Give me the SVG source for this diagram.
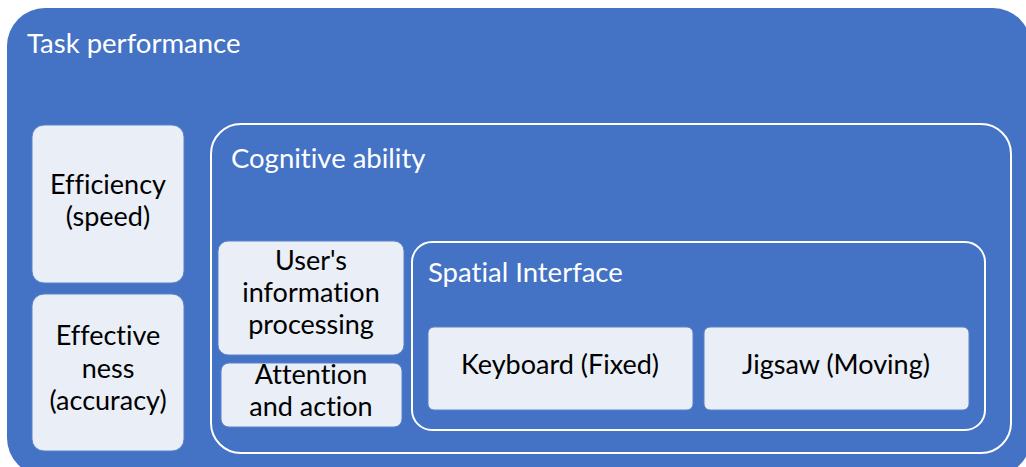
<svg xmlns="http://www.w3.org/2000/svg" width="1026" height="467" viewBox="0 0 1026 467">
<style>
.outer{fill:#4472C4}
.frame{fill:none;stroke:#FFFFFF;stroke-width:2}
.box{fill:#E9EEF7;stroke:#5A82C9;stroke-width:1}
.title{font-family:Lato,"Liberation Sans",sans-serif;font-size:27.5px;fill:#FFFFFF;font-variant-ligatures:none}
.lbl{font-family:Lato,"Liberation Sans",sans-serif;font-size:27px;fill:#000000;text-anchor:middle;font-variant-ligatures:none}
</style>
<rect width="1026" height="467" fill="#FFFFFF"/>
<g id="task-performance">
<rect class="outer" x="7" y="8" width="1024" height="468" rx="38"/>
<text class="title" x="27" y="53">Task performance</text>
</g>
<g id="efficiency">
<rect class="box" x="32" y="125" width="152" height="158" rx="12"/>
<text class="lbl" x="108" y="194">Efficiency</text>
<text class="lbl" x="108" y="226">(speed)</text>
</g>
<g id="effectiveness">
<rect class="box" x="32" y="294" width="152" height="157" rx="12"/>
<text class="lbl" x="108" y="345">Effective</text>
<text class="lbl" x="108" y="378">ness</text>
<text class="lbl" x="108" y="410">(accuracy)</text>
</g>
<g id="cognitive-ability">
<rect class="frame" x="211" y="124" width="800" height="329" rx="30"/>
<text class="title" x="231" y="168">Cognitive ability</text>
</g>
<g id="information-processing">
<rect class="box" x="218" y="241" width="186" height="114" rx="10"/>
<text class="lbl" x="311" y="270">User's</text>
<text class="lbl" x="311" y="302">information</text>
<text class="lbl" x="311" y="334">processing</text>
</g>
<g id="attention-action">
<rect class="box" x="221" y="363" width="181" height="64" rx="8"/>
<text class="lbl" x="311" y="384">Attention</text>
<text class="lbl" x="311" y="416">and action</text>
</g>
<g id="spatial-interface">
<rect class="frame" x="412" y="242" width="573" height="188" rx="20"/>
<text class="title" x="428" y="282">Spatial Interface</text>
</g>
<g id="keyboard">
<rect class="box" x="428" y="327" width="265" height="83" rx="6"/>
<text class="lbl" x="560" y="374">Keyboard (Fixed)</text>
</g>
<g id="jigsaw">
<rect class="box" x="704" y="327" width="265" height="83" rx="6"/>
<text class="lbl" x="836" y="374">Jigsaw (Moving)</text>
</g>
<g id="connectors"></g>
</svg>
